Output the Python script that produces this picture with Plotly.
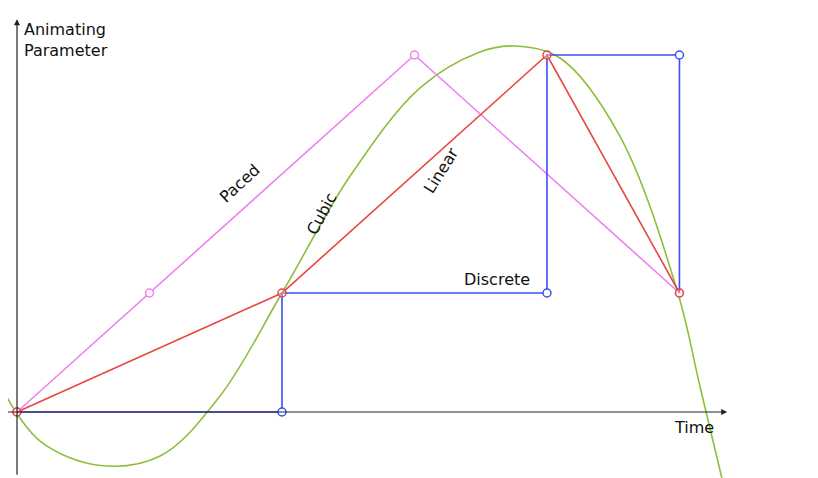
import plotly.graph_objects as go

# key times / parameter values of the animation (time units, parameter units)
linear_t = [0, 1, 2, 2.5]
linear_p = [0, 1, 3, 1]
paced_t = [0, 0.5, 1.5, 2.5]
paced_p = [0, 1, 3, 1]
discrete_t = [0, 1, 1, 2, 2, 2.5, 2.5]
discrete_p = [0, 0, 1, 1, 3, 3, 1]
discrete_open_t = [1, 2, 2.5]
discrete_open_p = [0, 1, 3]
cubic_t = [-0.045, 0.087, 0.306, 0.54, 0.766, 1.0, 1.257, 1.521, 1.747, 1.879,
           2.049, 2.275, 2.494, 2.577, 2.66]
cubic_p = [0.15, -0.244, -0.447, -0.37, 0.134, 1.0, 1.983, 2.723, 3.025, 3.076,
           2.975, 2.319, 1.0, 0.218, -0.555]

VIOLET = "#ee82ee"
RED = "#e8473f"
GREEN = "#8dbf3c"
BLUE = "#3c50f2"

fig = go.Figure()
fig.add_trace(go.Scatter(x=cubic_t, y=cubic_p, mode="lines",
                         line=dict(color=GREEN, width=1.6, shape="spline")))
fig.add_trace(go.Scatter(x=paced_t, y=paced_p, mode="lines+markers",
                         line=dict(color=VIOLET, width=1.6),
                         marker=dict(symbol="circle", size=8, color="white",
                                     line=dict(color=VIOLET, width=1.5))))
fig.add_trace(go.Scatter(x=discrete_t, y=discrete_p, mode="lines",
                         line=dict(color=BLUE, width=1.6)))
fig.add_trace(go.Scatter(x=discrete_open_t, y=discrete_open_p, mode="markers",
                         marker=dict(symbol="circle", size=8, color="white",
                                     line=dict(color=BLUE, width=1.5))))
fig.add_trace(go.Scatter(x=linear_t, y=linear_p, mode="lines+markers",
                         line=dict(color=RED, width=1.6),
                         marker=dict(symbol="circle", size=8, color="rgba(255,255,255,0.3)",
                                     line=dict(color=RED, width=1.5))))

font = dict(family="DejaVu Sans", size=16, color="#111")
labels = [
    (0.84, 1.92, "Paced", -43),
    (1.15, 1.67, "Cubic", -62),
    (1.6, 2.03, "Linear", -58),
    (1.81, 1.11, "Discrete", 0),
]
for x, y, text, ang in labels:
    fig.add_annotation(x=x, y=y, text=text, showarrow=False, textangle=ang, font=font)

fig.add_annotation(x=0.02, y=3.31, text="Animating<br>Parameter", showarrow=False,
                   xanchor="left", yanchor="top", align="left", font=font)
fig.add_annotation(x=2.47, y=-0.03, text="Time", showarrow=False,
                   xanchor="left", yanchor="top", font=font)

# axes with arrow heads
fig.add_annotation(x=2.68, y=0, ax=-0.045, ay=0, xref="x", yref="y", axref="x", ayref="y",
                   text="", showarrow=True, arrowhead=2, arrowsize=1, arrowwidth=1.2,
                   arrowcolor="#222")
fig.add_annotation(x=0, y=3.3, ax=0, ay=-0.54, xref="x", yref="y", axref="x", ayref="y",
                   text="", showarrow=True, arrowhead=2, arrowsize=1, arrowwidth=1.2,
                   arrowcolor="#222")

# ranges shifted to compensate the 8px page margin
fig.update_layout(
    width=818, height=478, margin=dict(l=0, r=0, t=0, b=0),
    paper_bgcolor="white", plot_bgcolor="white", showlegend=False,
    xaxis=dict(range=[-0.034, 3.053], visible=False),
    yaxis=dict(range=[-0.622, 3.395], visible=False),
)
fig.write_html("out.html")
